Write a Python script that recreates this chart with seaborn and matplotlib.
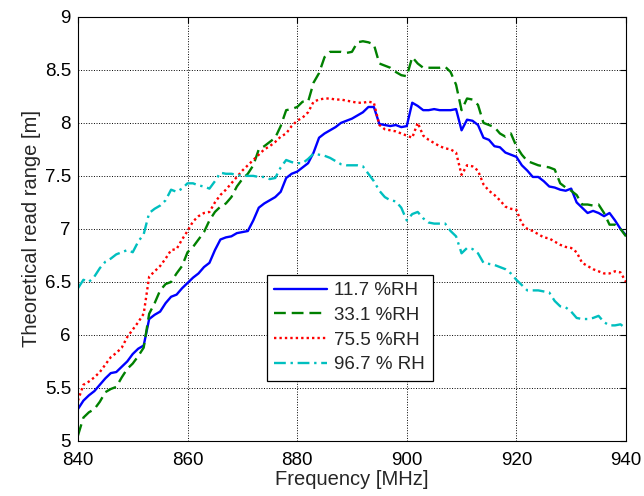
import numpy as np
import pandas as pd
import matplotlib
matplotlib.use("Agg")
import matplotlib.pyplot as plt
import seaborn as sns

freq = list(range(840, 941))

rh_11_7 = [5.30, 5.38, 5.43, 5.47, 5.53, 5.59, 5.64, 5.65, 5.70, 5.75,
           5.82, 5.87, 5.90, 6.15, 6.19, 6.22, 6.30, 6.36, 6.38, 6.44,
           6.49, 6.54, 6.58, 6.64, 6.68, 6.80, 6.90, 6.92, 6.93, 6.96,
           6.97, 6.98, 7.08, 7.20, 7.24, 7.27, 7.30, 7.35, 7.48, 7.52,
           7.54, 7.58, 7.62, 7.72, 7.86, 7.90, 7.93, 7.96, 8.00, 8.02,
           8.04, 8.07, 8.10, 8.15, 8.15, 7.99, 7.98, 7.97, 7.98, 7.96,
           7.97, 8.19, 8.16, 8.12, 8.12, 8.13, 8.12, 8.12, 8.12, 8.13,
           7.93, 8.03, 8.02, 7.98, 7.86, 7.84, 7.78, 7.77, 7.72, 7.70,
           7.68, 7.60, 7.55, 7.49, 7.49, 7.45, 7.40, 7.39, 7.37, 7.36,
           7.38, 7.25, 7.20, 7.15, 7.17, 7.15, 7.12, 7.15, 7.08, 7.00,
           6.94]

rh_33_1 = [5.05, 5.22, 5.27, 5.30, 5.37, 5.46, 5.49, 5.51, 5.60, 5.68,
           5.73, 5.80, 5.88, 6.20, 6.30, 6.42, 6.48, 6.50, 6.58, 6.65,
           6.78, 6.83, 6.90, 6.97, 7.08, 7.16, 7.21, 7.24, 7.30, 7.40,
           7.47, 7.52, 7.60, 7.75, 7.78, 7.82, 7.86, 7.97, 8.12, 8.13,
           8.15, 8.20, 8.20, 8.38, 8.47, 8.62, 8.67, 8.67, 8.67, 8.66,
           8.67, 8.76, 8.77, 8.76, 8.74, 8.56, 8.54, 8.52, 8.48, 8.45,
           8.44, 8.62, 8.56, 8.52, 8.52, 8.52, 8.52, 8.53, 8.48, 8.36,
           8.12, 8.23, 8.22, 8.17, 8.00, 7.98, 7.96, 7.90, 7.87, 7.90,
           7.78, 7.70, 7.64, 7.62, 7.60, 7.59, 7.58, 7.56, 7.43, 7.39,
           7.36, 7.32, 7.23, 7.23, 7.22, 7.23, 7.15, 7.04, 7.04, 7.00,
           6.93]

rh_75_5 = [5.38, 5.53, 5.56, 5.60, 5.65, 5.72, 5.79, 5.83, 5.88, 5.98,
           6.05, 6.12, 6.20, 6.55, 6.60, 6.65, 6.72, 6.80, 6.81, 6.90,
           6.98, 7.07, 7.12, 7.15, 7.16, 7.25, 7.32, 7.37, 7.43, 7.49,
           7.55, 7.60, 7.65, 7.70, 7.75, 7.78, 7.82, 7.87, 7.90, 7.97,
           8.02, 8.05, 8.10, 8.20, 8.22, 8.23, 8.23, 8.22, 8.22, 8.21,
           8.20, 8.19, 8.19, 8.20, 8.19, 7.98, 7.94, 7.93, 7.92, 7.90,
           7.88, 7.86, 8.00, 7.88, 7.84, 7.81, 7.78, 7.76, 7.75, 7.72,
           7.51, 7.60, 7.59, 7.55, 7.42, 7.36, 7.32, 7.27, 7.21, 7.19,
           7.18, 7.05, 7.00, 6.98, 6.95, 6.92, 6.91, 6.88, 6.85, 6.83,
           6.82, 6.78, 6.68, 6.65, 6.62, 6.60, 6.58, 6.58, 6.60, 6.59,
           6.50]

rh_96_7 = [6.44, 6.52, 6.50, 6.55, 6.63, 6.69, 6.72, 6.76, 6.78, 6.80,
           6.78, 6.88, 6.95, 7.15, 7.19, 7.22, 7.27, 7.37, 7.35, 7.38,
           7.43, 7.43, 7.41, 7.40, 7.38, 7.45, 7.53, 7.52, 7.52, 7.51,
           7.50, 7.50, 7.50, 7.49, 7.49, 7.47, 7.48, 7.58, 7.65, 7.63,
           7.62, 7.62, 7.66, 7.71, 7.70, 7.69, 7.67, 7.64, 7.61, 7.60,
           7.60, 7.60, 7.59, 7.52, 7.45, 7.36, 7.30, 7.27, 7.26, 7.20,
           7.08, 7.14, 7.16, 7.10, 7.06, 7.05, 7.05, 7.05, 6.98, 6.93,
           6.77, 6.82, 6.81, 6.77, 6.68, 6.67, 6.66, 6.64, 6.62, 6.58,
           6.52, 6.47, 6.42, 6.42, 6.42, 6.41, 6.40, 6.32, 6.27, 6.26,
           6.22, 6.16, 6.15, 6.15, 6.16, 6.18, 6.12, 6.09, 6.09, 6.10,
           6.06]

labels = ["11.7 %RH", "33.1 %RH", "75.5 %RH", "96.7 % RH"]
series = [rh_11_7, rh_33_1, rh_75_5, rh_96_7]
x_ticks = [840, 860, 880, 900, 920, 940]
y_ticks = [5, 5.5, 6, 6.5, 7, 7.5, 8, 8.5, 9]
y_tick_labels = ["5", "5.5", "6", "6.5", "7", "7.5", "8", "8.5", "9"]

colors = ["#0000ff", "#008000", "#ff0000", "#00bfbf"]
styles = ["-", (0, (5, 2.5)), (0, (1, 1.3)), (0, (5, 2, 1, 2))]

sns.set_style("white")
plt.rcParams["font.family"] = ["Liberation Sans", "DejaVu Sans"]

fig = plt.figure(figsize=(6.44, 4.96), dpi=100)
ax = fig.add_axes([0.121, 0.111, 0.851, 0.855])

for vals, lab, c, ls in zip(series, labels, colors, styles):
    df = pd.DataFrame({"Frequency": freq, "Range": vals})
    sns.lineplot(data=df, x="Frequency", y="Range", ax=ax, color=c,
                 linestyle=ls, linewidth=1.7, label=lab)

ax.set_xlim(840, 940)
ax.set_ylim(5, 9)
ax.set_xticks(x_ticks)
ax.set_yticks(y_ticks)
ax.set_yticklabels(y_tick_labels)
ax.tick_params(axis="both", which="both", direction="in", labelsize=13.5,
               top=True, right=True, length=4, width=0.8, colors="black")
ax.tick_params(axis="x", pad=8)
ax.tick_params(axis="y", pad=5)
ax.grid(True, color="black", linestyle=":", linewidth=0.7)
for sp in ax.spines.values():
    sp.set_color("black")
    sp.set_linewidth(0.8)

ax.set_xlabel("Frequency [MHz]", fontsize=14.5, labelpad=1)
ax.set_ylabel("Theoretical read range [m]", fontsize=14.5, labelpad=3)

leg = ax.legend(loc="lower left", bbox_to_anchor=(0.345, 0.142),
                borderaxespad=0, fancybox=False, framealpha=1,
                edgecolor="black", fontsize=13.5, handlelength=2.8,
                handletextpad=0.4, labelspacing=0.4, borderpad=0.4)
leg.get_frame().set_linewidth(0.9)

fig.savefig("out.png", dpi=100)
